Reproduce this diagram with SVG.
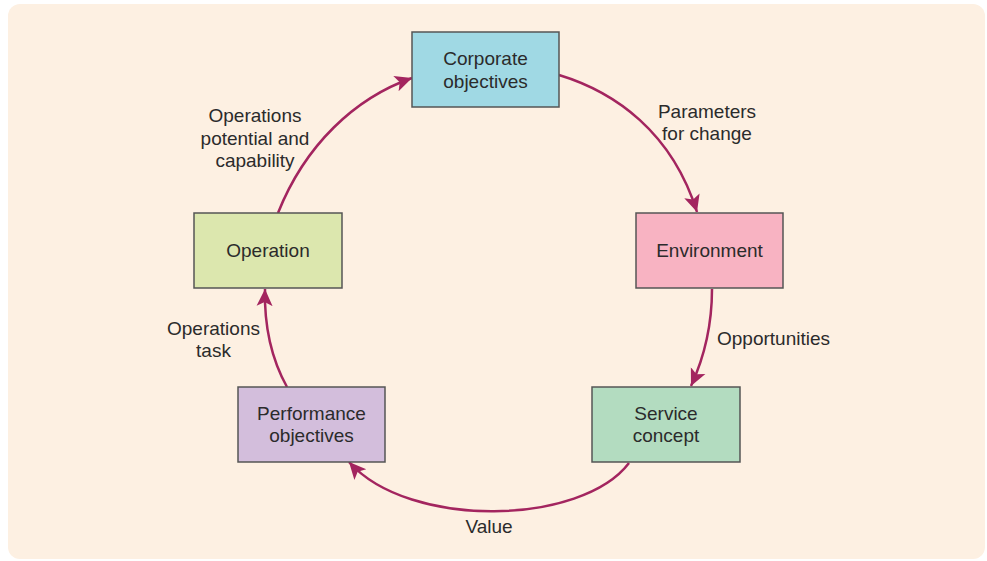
<svg xmlns="http://www.w3.org/2000/svg" width="987" height="561" viewBox="0 0 987 561">
<style>
.box{stroke:#555;stroke-width:1.5}
.t{font-family:"Liberation Sans",Arial,Helvetica,sans-serif;font-size:19px;fill:#2b2b2b;text-anchor:middle}
.lbl{font-family:"Liberation Sans",Arial,Helvetica,sans-serif;font-size:19px;fill:#2b2b2b}
.c{fill:none;stroke:#a3255f;stroke-width:2.5}
</style>
<defs>
<marker id="ah" markerUnits="userSpaceOnUse" markerWidth="20" markerHeight="18" refX="17" refY="8" orient="auto" viewBox="0 0 20 16">
<path d="M0,0 L17,8 L0,16 L4,8 Z" fill="#a3255f"/>
</marker>
</defs>
<rect x="8" y="4" width="977" height="555" rx="12" fill="#fdf0e2"/>
<g id="connectors">
<path class="c" d="M559,75 C615,92 672,132 697,212" marker-end="url(#ah)"/>
<path class="c" d="M712,289 C712,330 703,360 691,386" marker-end="url(#ah)"/>
<path class="c" d="M629,463 C582,525 410,530 349,462" marker-end="url(#ah)"/>
<path class="c" d="M287,387 C272,360 264,330 265,289" marker-end="url(#ah)"/>
<path class="c" d="M278,213 C305,145 355,98 412,78" marker-end="url(#ah)"/>
</g>
<g id="corporate">
<rect class="box" x="412" y="32" width="147" height="75" fill="#a0d9e4"/>
<text class="t" x="485.5" y="65">Corporate</text>
<text class="t" x="485.5" y="88">objectives</text>
</g>
<g id="environment">
<rect class="box" x="636" y="213" width="147" height="75" fill="#f8b3c2"/>
<text class="t" x="709.5" y="257">Environment</text>
</g>
<g id="service">
<rect class="box" x="592" y="387" width="148" height="75" fill="#b3dcc0"/>
<text class="t" x="666" y="420">Service</text>
<text class="t" x="666" y="442">concept</text>
</g>
<g id="performance">
<rect class="box" x="238" y="387" width="147" height="75" fill="#d3bedc"/>
<text class="t" x="311.5" y="420">Performance</text>
<text class="t" x="311.5" y="442">objectives</text>
</g>
<g id="operation">
<rect class="box" x="194" y="213" width="148" height="75" fill="#dce7ae"/>
<text class="t" x="268" y="257">Operation</text>
</g>
<g id="labels">
<text class="t" x="707" y="118">Parameters</text>
<text class="t" x="707" y="140">for change</text>
<text class="lbl" x="717" y="345">Opportunities</text>
<text class="t" x="489" y="533">Value</text>
<text class="t" x="213.5" y="335">Operations</text>
<text class="t" x="213.5" y="357">task</text>
<text class="t" x="255" y="122">Operations</text>
<text class="t" x="255" y="145">potential and</text>
<text class="t" x="255" y="167">capability</text>
</g>
</svg>
